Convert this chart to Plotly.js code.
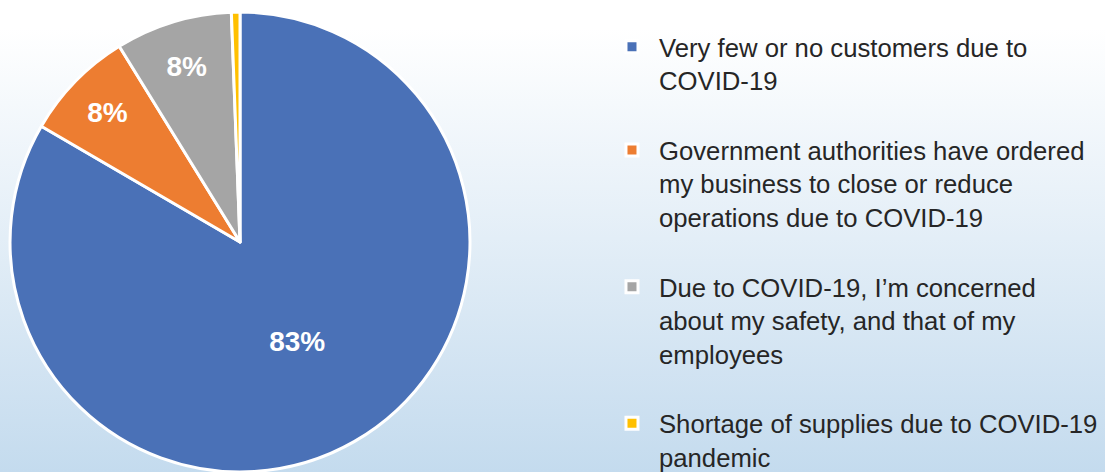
<!DOCTYPE html>
<html>
<head>
<meta charset="utf-8">
<script src="https://cdn.plot.ly/plotly-3.0.1.min.js"></script>
<style>
  html, body { margin: 0; padding: 0; }
  body { width: 1105px; height: 472px; overflow: hidden;
         background: linear-gradient(to bottom, #ffffff 0%, #ffffff 6%, #c4dbee 100%); }
  #chart { width: 1105px; height: 472px; }
</style>
</head>
<body>
<div id="chart"></div>
<script>
const labels = [
  "Very few or no customers due to<br>COVID-19<br>\u00a0",
  "Government authorities have ordered<br>my business to close or reduce<br>operations due to COVID-19<br>\u00a0",
  "Due to COVID-19, I\u2019m concerned<br>about my safety, and that of my<br>employees<br>\u00a0",
  "Shortage of supplies due to COVID-19<br>pandemic"
];
const values = [83.4, 7.8, 8.2, 0.6];
const colors = ["#4a71b7", "#ed7d31", "#a5a5a5", "#ffc000"];
const sliceLabels = ["%{percent:.0%}", "%{percent:.0%}", "%{percent:.0%}", ""];

const data = [{
  type: "pie",
  labels: labels,
  values: values,
  sort: false,
  direction: "clockwise",
  rotation: 0,
  marker: { colors: colors, line: { color: "#ffffff", width: 3 } },
  texttemplate: sliceLabels,
  textposition: "inside",
  insidetextorientation: "horizontal",
  textfont: { family: "Liberation Sans, Arial, sans-serif", size: 28, color: "#ffffff", weight: "bold" },
  hoverinfo: "label+percent",
  domain: { x: [0.0091, 0.4253], y: [0, 0.9746] }
}];

const layout = {
  width: 1105,
  height: 472,
  margin: { l: 0, r: 0, t: 0, b: 0, autoexpand: false },
  paper_bgcolor: "rgba(0,0,0,0)",
  plot_bgcolor: "rgba(0,0,0,0)",
  showlegend: true,
  legend: {
    x: 0.5475, xanchor: "left",
    y: 0.95, yanchor: "top",
    valign: "top",
    maxheight: 700,
    bgcolor: "rgba(0,0,0,0)",
    font: { family: "Liberation Sans, Arial, sans-serif", size: 25.7, color: "#262626" },
    itemwidth: 44
  }
};

Plotly.newPlot("chart", data, layout, { displayModeBar: false, staticPlot: true });
</script>
</body>
</html>
